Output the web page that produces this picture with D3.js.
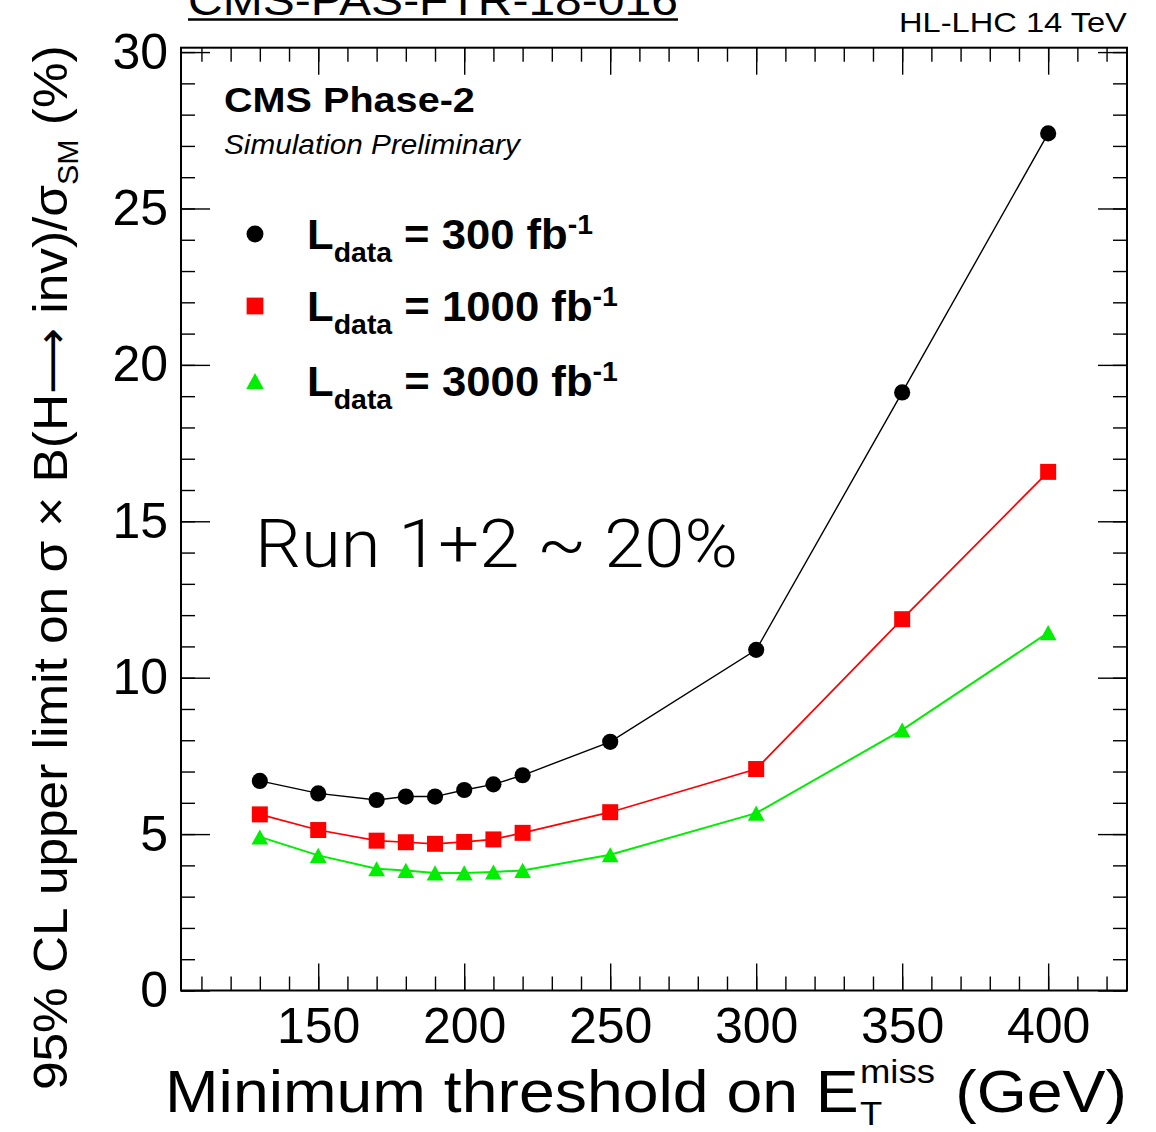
<!DOCTYPE html>
<html>
<head>
<meta charset="utf-8">
<script src="https://cdn.jsdelivr.net/npm/d3@7"></script>
<style>
  body { margin: 0; background: #fff; }
  svg text { font-family: "Liberation Sans", Arial, Helvetica, "DejaVu Sans", sans-serif; fill: #000; }
</style>
</head>
<body>
<svg id="chart" width="1156" height="1132"></svg>
<script>
// data
const thresholds = [130, 150, 170, 180, 190, 200, 210, 220, 250, 300, 350, 400];
const limit300 = [6.70, 6.30, 6.09, 6.20, 6.20, 6.41, 6.59, 6.88, 7.95, 10.89, 19.12, 27.40];
const limit1000 = [5.63, 5.13, 4.79, 4.74, 4.69, 4.75, 4.83, 5.04, 5.70, 7.08, 11.87, 16.58];
const limit3000 = [4.91, 4.32, 3.89, 3.84, 3.76, 3.76, 3.79, 3.84, 4.34, 5.67, 8.33, 11.44];
const lumiLabels = ["300", "1000", "3000"];
const xMajorTicks = [150, 200, 250, 300, 350, 400];
const yMajorTicks = [0, 5, 10, 15, 20, 25, 30];

const svg = d3.select("#chart");

// frame
const frameL = 181, frameR = 1127, frameT = 47.7, frameB = 990.5;

const x = d3.scaleLinear().domain([103, 427]).range([frameL, frameR]);
const y = d3.scaleLinear().domain([0, 30.14]).range([frameB, frameT]);

// marker shapes (ROOT style 20, 21, 22)
const triangle = {
    draw(ctx, size) {
        const r = Math.sqrt(size) / 2;
        ctx.moveTo(0, -r * 0.9);
        ctx.lineTo(r, r * 0.9);
        ctx.lineTo(-r, r * 0.9);
        ctx.closePath();
    }
};
const series = [
    { lumi: lumiLabels[0], values: limit300, color: "#000000", type: d3.symbolCircle, size: 205, lw: 1.4 },
    { lumi: lumiLabels[1], values: limit1000, color: "#ff0000", type: d3.symbolSquare, size: 256, lw: 1.7 },
    { lumi: lumiLabels[2], values: limit3000, color: "#00ee00", type: triangle, size: 280, lw: 2 }
];

// ---- axes ----
function styleAxis(g) {
    g.select(".domain").remove();
    g.selectAll(".tick line").attr("stroke", "#000").attr("stroke-width", 1.4);
    g.selectAll(".tick text").style("font-size", "50px").attr("font-family", null);
}
const xMinor = d3.range(110, 430, 10);
const yMinor = d3.range(0, 31, 1);

// bottom
svg.append("g").attr("transform", `translate(0,${frameB})`)
    .call(d3.axisBottom(x).tickValues(xMinor).tickSize(-14).tickFormat("")).call(styleAxis);
svg.append("g").attr("transform", `translate(0,${frameB})`)
    .call(d3.axisBottom(x).tickValues(xMajorTicks).tickSize(-27).tickPadding(17).tickFormat(d3.format("d")))
    .call(styleAxis);
// top
svg.append("g").attr("transform", `translate(0,${frameT})`)
    .call(d3.axisTop(x).tickValues(xMinor).tickSize(-14).tickFormat("")).call(styleAxis);
svg.append("g").attr("transform", `translate(0,${frameT})`)
    .call(d3.axisTop(x).tickValues(xMajorTicks).tickSize(-27).tickFormat("")).call(styleAxis);
// left
svg.append("g").attr("transform", `translate(${frameL},0)`)
    .call(d3.axisLeft(y).tickValues(yMinor).tickSize(-14).tickFormat("")).call(styleAxis);
svg.append("g").attr("transform", `translate(${frameL},0)`)
    .call(d3.axisLeft(y).tickValues(yMajorTicks).tickSize(-29).tickPadding(13).tickFormat(d3.format("d")))
    .call(styleAxis);
// right
svg.append("g").attr("transform", `translate(${frameR},0)`)
    .call(d3.axisRight(y).tickValues(yMinor).tickSize(-14).tickFormat("")).call(styleAxis);
svg.append("g").attr("transform", `translate(${frameR},0)`)
    .call(d3.axisRight(y).tickValues(yMajorTicks).tickSize(-29).tickFormat("")).call(styleAxis);

// frame
svg.append("rect")
    .attr("x", frameL).attr("y", frameT)
    .attr("width", frameR - frameL).attr("height", frameB - frameT)
    .attr("fill", "none").attr("stroke", "#000").attr("stroke-width", 2);

// ---- graphs ----
const line = d3.line().x(d => x(d[0])).y(d => y(d[1]));
series.forEach(s => {
    const pts = thresholds.map((t, i) => [t, s.values[i]]);
    svg.append("path")
        .datum(pts)
        .attr("d", line)
        .attr("fill", "none")
        .attr("stroke", s.color)
        .attr("stroke-width", s.lw);
    svg.append("g").selectAll("path")
        .data(pts)
        .enter()
        .append("path")
        .attr("transform", d => `translate(${x(d[0])},${y(d[1])})`)
        .attr("d", d3.symbol().type(s.type).size(s.size))
        .attr("fill", s.color);
});

// ---- text helpers ----
// squeeze/stretch a group horizontally so its box spans x0..x1
function fitX(g, x0, x1) {
    const b = g.node().getBBox();
    const s = (x1 - x0) / b.width;
    g.attr("transform", `translate(${x0 - b.x * s},0) scale(${s},1)`);
}

// CMS-PAS label (cut at the top edge)
let g = svg.append("g");
g.append("text").attr("y", 15).style("font-size", "42px").text("CMS-PAS-FTR-18-016");
fitX(g, 188, 678);
svg.append("line").attr("x1", 188).attr("x2", 678).attr("y1", 19.5).attr("y2", 19.5)
    .attr("stroke", "#000").attr("stroke-width", 2.4);

// energy label
g = svg.append("g");
g.append("text").attr("y", 32).style("font-size", "27px").text("HL-LHC 14 TeV");
fitX(g, 899, 1127);

g = svg.append("g");
g.append("text").attr("y", 112).style("font-size", "35px").style("font-weight", "bold").text("CMS Phase-2");
fitX(g, 224, 475);

g = svg.append("g");
g.append("text").attr("y", 154).style("font-size", "28px").style("font-style", "italic").text("Simulation Preliminary");
fitX(g, 224, 522);

// ---- legend ----
const legendY = [234, 306, 381];
const legendRight = [593, 618, 618];
series.forEach((s, i) => {
    svg.append("path")
        .attr("transform", `translate(255,${legendY[i]})`)
        .attr("d", d3.symbol().type(s.type).size(s.size * 1.1))
        .attr("fill", s.color);
    const lg = svg.append("g");
    const t = lg.append("text").attr("y", legendY[i] + 15.5)
        .style("font-size", "43px").style("font-weight", "bold");
    t.append("tspan").text("L");
    t.append("tspan").attr("dy", 13).style("font-size", "28px").text("data");
    t.append("tspan").attr("dy", -13).text(" = " + s.lumi + " fb");
    t.append("tspan").attr("dy", -15).style("font-size", "28px").text("-1");
    fitX(lg, 307, legendRight[i]);
});

// run 1+2 note
g = svg.append("g");
g.append("text").attr("y", 567).style("font-size", "66px")
    .style("font-family", "Roboto, 'Liberation Sans', sans-serif").style("font-weight", 300)
    .text("Run 1+2 ~ 20%");
fitX(g, 255, 738);

// ---- x axis title ----
g = svg.append("g");
const xt = g.append("text").attr("y", 1112).style("font-size", "60px");
xt.append("tspan").text("Minimum threshold on E");
const eW = xt.node().getComputedTextLength();
const sup = g.append("text").attr("x", eW + 1).attr("y", 1083).style("font-size", "34px").text("miss");
g.append("text").attr("x", eW + 1).attr("y", 1125).style("font-size", "34px").text("T");
const supW = sup.node().getComputedTextLength();
g.append("text").attr("x", eW + supW + 20).attr("y", 1112).style("font-size", "60px").text("(GeV)");
fitX(g, 165, 1127);

// ---- y axis title ----
const yg = svg.append("g");
const yt = yg.append("text").style("font-size", "49px");
yt.append("tspan").text("95% CL upper limit on σ × B(H");
yt.append("tspan").style("font-family", "'DejaVu Sans', sans-serif").style("font-size", "44px").text("⟶");
yt.append("tspan").text(" inv)/σ");
yt.append("tspan").attr("dy", 11).style("font-size", "29px").text("SM");
yt.append("tspan").attr("dy", -11).text("  (%)");
const yw = yt.node().getBBox().width;
yg.attr("transform", `translate(67,1090) rotate(-90) scale(${1045 / yw},1)`);
</script>
</body>
</html>
